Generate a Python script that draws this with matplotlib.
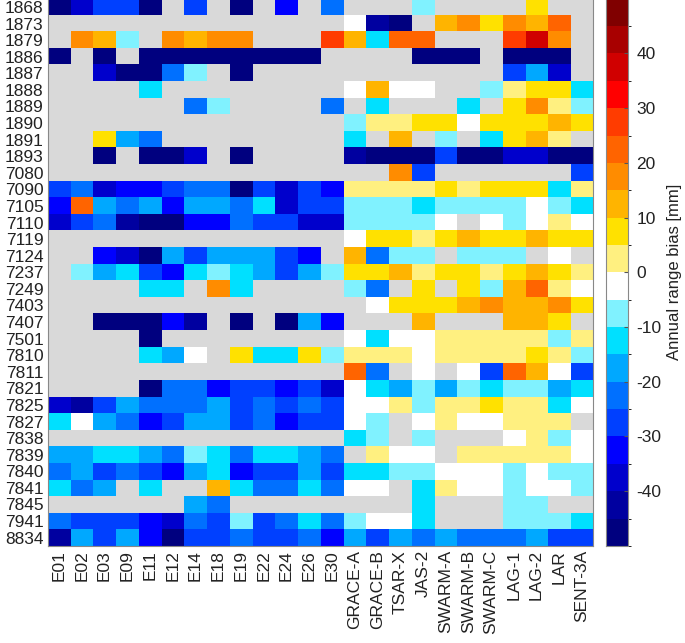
import numpy as np
import matplotlib
matplotlib.use('Agg')
import matplotlib.pyplot as plt
from matplotlib.colors import ListedColormap, BoundaryNorm

plt.rcParams['font.family'] = ['Liberation Sans', 'DejaVu Sans']
plt.rcParams['axes.unicode_minus'] = False

stations = ['1868', '1873', '1879', '1886', '1887', '1888', '1889', '1890', '1891',
            '1893', '7080', '7090', '7105', '7110', '7119', '7124', '7237', '7249',
            '7403', '7407', '7501', '7810', '7811', '7821', '7825', '7827', '7838',
            '7839', '7840', '7841', '7845', '7941', '8834']

satellites = ['E01', 'E02', 'E03', 'E09', 'E11', 'E12', 'E14', 'E18', 'E19', 'E22',
              'E24', 'E26', 'E30', 'GRACE-A', 'GRACE-B', 'TSAR-X', 'JAS-2', 'SWARM-A',
              'SWARM-B', 'SWARM-C', 'LAG-1', 'LAG-2', 'LAR', 'SENT-3A']

n = np.nan
# annual range bias [mm], one row per station, one column per satellite
bias = [
    [-47, -37, -27, -27, -47, n, -27, n, -47, n, -32, n, -22, n, n, n, -7, n, n, n, n, 7, n, n],
    [n, n, n, n, n, n, n, n, n, n, n, n, n, -2, -42, -47, n, 12, 17, 7, 17, 12, 22, n],
    [n, 17, 12, -7, n, 17, 12, 17, 17, n, n, n, 27, 12, -12, 22, 22, n, n, n, 27, 37, 17, n],
    [-47, n, -47, n, -47, -47, -47, -47, -47, -47, -47, -47, n, n, n, n, -47, -47, -47, n, -47, -47, -47, n],
    [n, n, -37, -47, -47, -22, -7, n, -47, n, n, n, n, n, n, n, n, n, n, n, -27, -17, -37, n],
    [n, n, n, n, -12, n, n, n, n, n, n, n, n, -2, 12, -2, -2, n, n, -7, 2, 7, 7, -12],
    [n, n, n, n, n, n, -22, -7, n, n, n, n, -22, n, -12, n, n, n, -12, n, 7, 17, 2, -7],
    [n, n, n, n, n, n, n, n, n, n, n, n, n, -7, 2, 2, 7, 7, -2, 7, 7, 7, 12, 7],
    [n, n, 7, -17, -22, n, n, n, n, n, n, n, n, -12, n, 12, n, -7, n, -12, 7, 12, 2, n],
    [n, n, -47, n, -47, -47, -37, n, -47, n, n, n, n, -42, -47, -47, -47, -27, -47, -47, -37, -37, -47, -47],
    [n, n, n, n, n, n, n, n, n, n, n, n, n, n, n, 17, -27, n, n, n, n, n, n, -27],
    [-27, -22, -37, -32, -32, -27, -22, -22, -47, -27, -37, -27, -32, 2, 2, 2, 2, 7, 2, 7, 7, 7, -12, 2],
    [-32, 22, -17, -22, -17, -32, -17, -17, -22, -12, -37, -27, -27, -7, -7, -7, -12, -7, -7, -7, -7, -2, -7, -12],
    [-37, -27, -22, -42, -47, -47, -32, -32, -22, -27, -27, -37, -37, -7, -7, -7, -7, -2, n, -2, -7, -2, 2, -2],
    [n, n, n, n, n, n, n, n, n, n, n, n, n, -2, 7, 7, 2, 7, 12, 7, 7, 12, 7, 7],
    [n, n, -32, -37, -47, -17, -27, -17, -17, -17, -27, -32, n, 12, -22, -7, -7, n, -7, -7, -7, n, -2, n],
    [n, -7, -17, -12, -27, -32, -12, -7, -12, -17, -27, -17, -7, 7, 7, 12, 2, 7, 7, 2, 7, 12, 7, 2],
    [n, n, n, n, -12, -12, n, 17, -12, n, n, n, n, -7, -22, n, 7, n, 7, -7, 12, 22, 2, -2],
    [n, n, n, n, n, n, n, n, n, n, n, n, n, n, -2, 7, 7, 7, 12, 17, 12, 12, 17, 7],
    [n, n, -47, -47, -47, -32, -42, n, -47, n, -47, -17, -32, n, n, n, 12, n, n, n, 12, 12, 7, n],
    [n, n, n, n, -47, n, n, n, n, n, n, n, n, -2, -12, -2, -2, 2, 2, 2, 2, 2, -7, 2],
    [n, n, n, n, -12, -17, -2, n, 7, -12, -12, 7, -7, 2, 2, 2, -2, 2, 2, 2, 2, 7, 2, -7],
    [n, n, n, n, n, n, n, n, n, n, n, n, n, 22, -22, n, -2, n, -2, -27, 22, 12, -2, -27],
    [n, n, n, n, -47, -22, -22, -32, -27, -27, -32, -27, -37, -2, -12, -17, -7, -17, -7, -12, -7, -7, -17, -12],
    [-37, -42, -27, -17, -22, -22, -22, -17, -27, -22, -27, -22, -27, -2, -2, 2, -7, 2, 2, 7, 2, 2, -12, -2],
    [-12, -2, -17, -22, -32, -27, -17, -17, -27, -22, -32, -27, -27, -2, -7, n, -2, 2, -2, -2, 2, 2, 2, n],
    [n, n, n, n, n, n, n, n, n, n, n, n, n, -12, -7, n, -7, n, n, n, -2, 2, -7, -2],
    [-17, -17, -12, -12, -17, -22, -7, -12, -22, -12, -12, -17, -22, n, 2, -2, -2, n, 2, 2, 2, 2, 2, -2],
    [-22, -17, -27, -22, -27, -32, -17, -12, -32, -27, -27, -17, -27, -12, -12, -7, -7, -2, -2, -2, -7, -2, -7, -7],
    [-12, -22, -17, n, -12, n, n, 12, -12, -22, -22, -12, -22, -2, -2, n, -12, 2, -2, -2, -7, -2, -2, -7],
    [n, n, n, n, n, n, -17, -22, n, n, n, n, n, n, n, n, -12, n, n, n, -7, -7, n, n],
    [-22, -27, -27, -27, -32, -37, -22, -27, -7, -27, -22, -12, -22, -7, -2, -2, -12, n, n, n, -7, -7, -7, -12],
    [-42, -17, -27, -17, -32, -47, -27, -27, -22, -27, -27, -22, -32, -17, -27, -17, -22, -17, -22, -22, -22, -17, -27, -27],
]

# 20 steps of 5 mm, jet-like with white/light yellow around zero
level_colors = ['#00007f', '#0000a0', '#0000cc', '#0000ff', '#0040ff', '#0070ff',
                '#00a8ff', '#00e0ff', '#80f2ff', '#ffffff', '#fff080', '#ffe100',
                '#ffb400', '#ff8c00', '#ff6400', '#ff3c00', '#ff0000', '#d00000',
                '#a80000', '#800000']
cmap = ListedColormap(level_colors)
cmap.set_bad('#d9d9d9')
norm = BoundaryNorm(np.arange(-50, 51, 5), cmap.N)

data = np.ma.masked_invalid(np.array(bias, dtype=float))

fig = plt.figure(figsize=(6.85, 6.43), dpi=100)
ax = fig.add_axes([0.0696, 0.151, 0.7967, 0.851])
im = ax.imshow(data, cmap=cmap, norm=norm, aspect='auto', interpolation='nearest')

ax.set_xticks(np.arange(len(satellites)))
ax.set_xticklabels(satellites, rotation=90, fontsize=12.5, color='#222222')
ax.set_yticks(np.arange(len(stations)))
ax.set_yticklabels(stations, fontsize=12.5, color='#222222')
ax.tick_params(length=0, pad=3)
for sp in ax.spines.values():
    sp.set_color('#888888')
    sp.set_linewidth(0.8)

cax = fig.add_axes([0.8847, 0.151, 0.032, 0.851])
cb = fig.colorbar(im, cax=cax, ticks=np.arange(-40, 41, 10))
cb.ax.tick_params(labelsize=12.5, labelcolor='#222222', length=3, color='#555555',
                  direction='in', pad=6)
cb.outline.set_edgecolor('#888888')
cb.outline.set_linewidth(0.8)
cb.set_label('Annual range bias [mm]', fontsize=12, color='#222222')
cb.ax.yaxis.set_label_coords(2.8, 0.5)

fig.savefig('out.png', dpi=100)
